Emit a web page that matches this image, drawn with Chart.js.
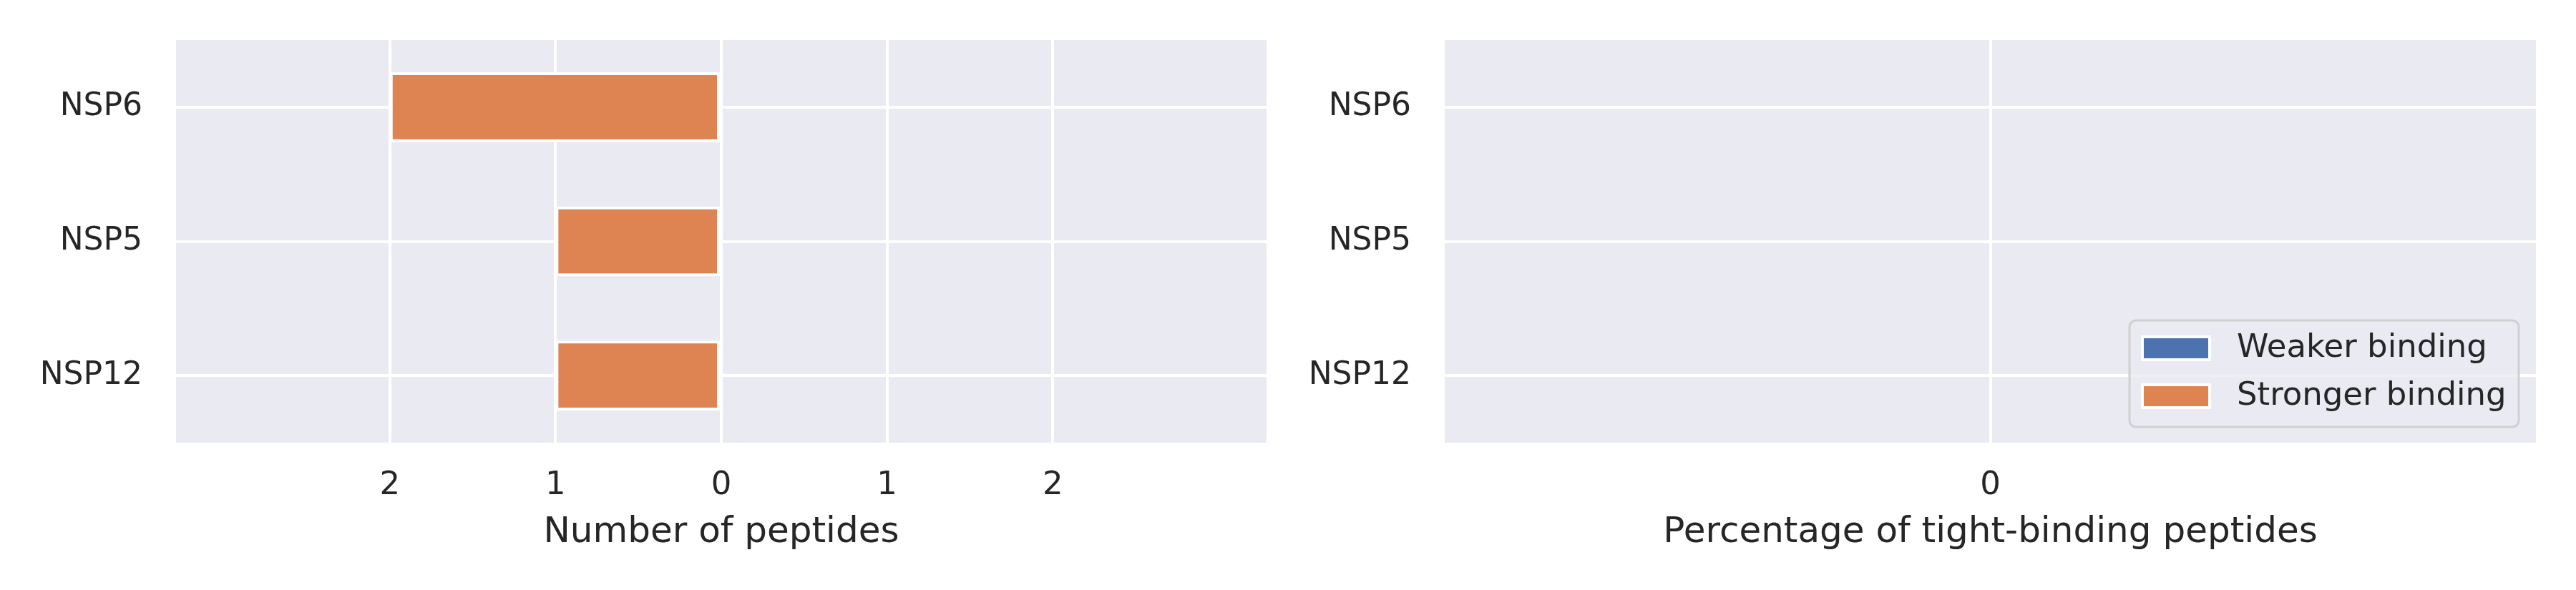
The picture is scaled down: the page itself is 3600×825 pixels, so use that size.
<!DOCTYPE html>
<html>
<head>
<meta charset="utf-8">
<script src="https://cdn.jsdelivr.net/npm/chart.js@4"></script>
<style>
  html, body { margin: 0; padding: 0; background: #fff; }
  #wrap { position: relative; width: 3600px; height: 825px; }
  canvas { position: absolute; top: 0; }
</style>
</head>
<body>
<div id="wrap">
  <canvas id="countChart" width="1800" height="825" style="left:0"></canvas>
  <canvas id="pctChart" width="1800" height="825" style="left:1800px"></canvas>
</div>
<script>
// data
const proteins = ['NSP6', 'NSP5', 'NSP12'];
const weakerCounts = [0, 0, 0];
const strongerCounts = [2, 1, 1];      // drawn to the left (negative side)
const weakerPct = [0, 0, 0];
const strongerPct = [0, 0, 0];
const countTicks = [-2, -1, 0, 1, 2];
const pctTicks = [0];
const seriesNames = ['Weaker binding', 'Stronger binding'];
const seriesColors = ['#4C72B0', '#DD8452'];

const FONT = '"DejaVu Sans", "Liberation Sans", sans-serif';
const TEXT = '#262626';
const AX_BG = '#EAEAF2';

Chart.defaults.font.family = FONT;
Chart.defaults.color = TEXT;

const axesBg = {
  id: 'axesBg',
  beforeDraw(chart) {
    const { ctx, chartArea: a } = chart;
    ctx.save();
    ctx.fillStyle = AX_BG;
    ctx.fillRect(a.left, a.top, a.right - a.left, a.bottom - a.top);
    ctx.restore();
  }
};

const legendBox = {
  id: 'legendBox',
  afterDraw(chart) {
    const { ctx, chartArea: a } = chart;
    const w = 544, h = 149;
    const x = a.right - 24 - w, y = a.bottom - 22 - h;
    ctx.save();
    ctx.beginPath();
    ctx.roundRect(x, y, w, h, 9);
    ctx.fillStyle = 'rgba(234,234,242,0.8)';
    ctx.fill();
    ctx.lineWidth = 3;
    ctx.strokeStyle = '#d0d0d0';
    ctx.stroke();
    chart.data.datasets.forEach((ds, i) => {
      const cy = y + 39 + i * 67;
      ctx.fillStyle = '#ffffff';
      ctx.fillRect(x + 16, cy - 18, 98, 36);
      ctx.fillStyle = ds.backgroundColor;
      ctx.fillRect(x + 20, cy - 14, 90, 28);
      ctx.fillStyle = TEXT;
      ctx.font = '45px ' + FONT;
      ctx.textBaseline = 'middle';
      ctx.textAlign = 'left';
      ctx.fillText(ds.label, x + 150, cy);
    });
    ctx.restore();
  }
};

function makeChart(id, weak, strong, sign, range, ticks, xTitle, yWidth, padRight, plugins) {
  return new Chart(document.getElementById(id), {
    type: 'bar',
    data: {
      labels: proteins,
      datasets: [
        { label: seriesNames[0], data: weak, backgroundColor: seriesColors[0] },
        { label: seriesNames[1], data: strong.map(v => sign * v), backgroundColor: seriesColors[1] }
      ]
    },
    options: {
      indexAxis: 'y',
      responsive: false,
      animation: false,
      events: [],
      layout: { padding: { top: 56, right: padRight, left: 0, bottom: 0 } },
      datasets: {
        bar: {
          barPercentage: 0.52,
          categoryPercentage: 1,
          borderColor: '#ffffff',
          borderWidth: 4,
          borderSkipped: false
        }
      },
      plugins: { legend: { display: false }, tooltip: { enabled: false } },
      scales: {
        x: {
          type: 'linear',
          stacked: true,
          min: -range,
          max: range,
          afterBuildTicks: s => { s.ticks = ticks.map(v => ({ value: v })); },
          afterFit: s => { s.height = 206; s.paddingLeft = 0; s.paddingRight = 0; },
          grid: { color: '#ffffff', lineWidth: 4, drawTicks: false },
          border: { display: false },
          ticks: {
            padding: 33,
            font: { size: 45 },
            color: TEXT,
            callback: v => String(Math.abs(v))
          },
          title: {
            display: true,
            text: xTitle,
            font: { size: 50 },
            color: TEXT,
            padding: { top: 0, bottom: 50 }
          }
        },
        y: {
          type: 'category',
          stacked: true,
          offset: true,
          afterFit: s => { s.width = yWidth; s.paddingTop = 0; s.paddingBottom = 0; },
          grid: { color: '#ffffff', lineWidth: 4, drawTicks: false, offset: false },
          border: { display: false },
          ticks: { padding: 47, font: { size: 44 }, color: TEXT }
        }
      }
    },
    plugins: plugins
  });
}

makeChart('countChart', weakerCounts, strongerCounts, -1, 3.29, countTicks,
  'Number of peptides', 246, 30, [axesBg]);
makeChart('pctChart', weakerPct, strongerPct, 1, 1, pctTicks,
  'Percentage of tight-binding peptides', 219, 56, [axesBg, legendBox]);
</script>
</body>
</html>
